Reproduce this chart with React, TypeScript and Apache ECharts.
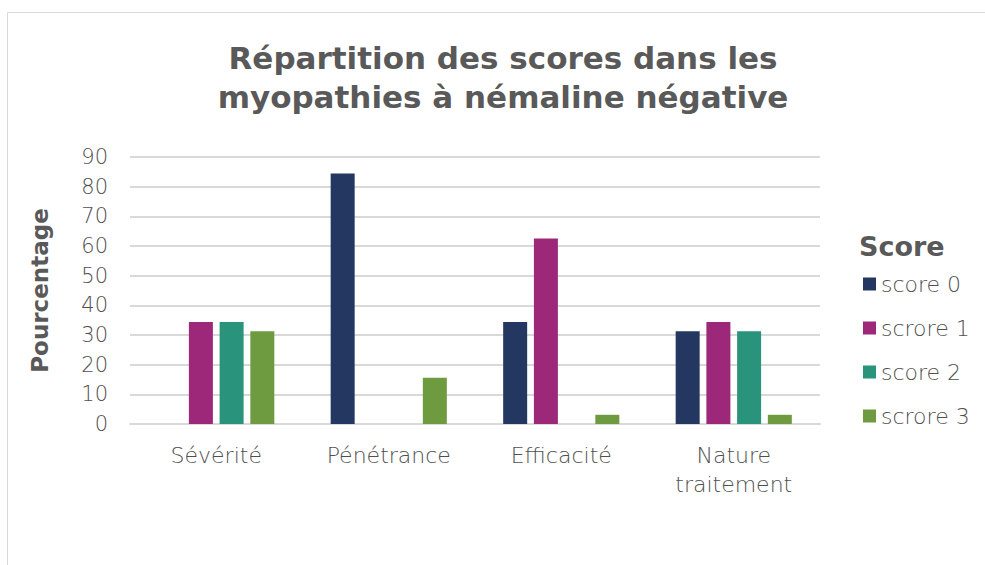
import React, { useEffect, useRef } from "react";
import * as echarts from "echarts";

const categories = ["Sévérité", "Pénétrance", "Efficacité", "Nature traitement"];
const seriesNames = ["score 0", "scrore 1", "score 2", "scrore 3"];
const score0 = [0, 84.4, 34.4, 31.25];
const score1 = [34.4, 0, 62.5, 34.4];
const score2 = [34.4, 0, 0, 31.25];
const score3 = [31.25, 15.6, 3.1, 3.1];
const colors = ["#243761", "#9d2779", "#2a937b", "#6e9b3f"];
const yTicks = { min: 0, max: 90, interval: 10 };

const FONT = "'DejaVu Sans', sans-serif";
const GRAY = "#595959";
const LIGHT_TEXT = "#4f4f4f";

export default function App() {
  const ref = useRef<HTMLDivElement>(null);
  useEffect(() => {
    if (!ref.current) return;
    const chart = echarts.init(ref.current, undefined, { renderer: "svg" });
    const values = [score0, score1, score2, score3];
    chart.setOption({
      animation: false,
      backgroundColor: "#ffffff",
      textStyle: { fontFamily: FONT },
      title: {
        text: "Répartition des scores dans les\nmyopathies à némaline négative",
        left: 503,
        top: 38,
        padding: 0,
        textAlign: "center",
        textStyle: {
          fontFamily: FONT,
          fontSize: 31,
          fontWeight: "bold",
          color: GRAY,
          lineHeight: 39,
        },
      },
      graphic: [
        {
          type: "line",
          shape: { x1: 7.5, y1: 12.5, x2: 985, y2: 12.5 },
          style: { stroke: "#d9d9d9", lineWidth: 1 },
          silent: true,
        },
        {
          type: "line",
          shape: { x1: 7.5, y1: 12.5, x2: 7.5, y2: 565 },
          style: { stroke: "#d9d9d9", lineWidth: 1 },
          silent: true,
        },
        {
          type: "text",
          left: 859,
          top: 233,
          style: {
            text: "Score",
            fontFamily: FONT,
            fontSize: 27,
            fontWeight: "bold",
            fill: GRAY,
          },
        },
      ],
      legend: {
        orient: "vertical",
        left: 863,
        top: 273,
        padding: 0,
        itemWidth: 13,
        itemHeight: 13,
        itemGap: 22,
        icon: "rect",
        data: seriesNames,
        textStyle: { fontFamily: FONT, fontSize: 22, fontWeight: 300, color: LIGHT_TEXT, lineHeight: 22 },
      },
      grid: { left: 130, right: 165, top: 157, bottom: 141 },
      xAxis: {
        type: "category",
        data: categories,
        axisTick: { show: false },
        axisLine: { lineStyle: { color: "#d9d9d9", width: 2 } },
        axisLabel: {
          fontFamily: FONT,
          fontSize: 22,
          fontWeight: 300,
          color: LIGHT_TEXT,
          margin: 17,
          lineHeight: 29,
          formatter: (v: string) => (v === "Nature traitement" ? "Nature\ntraitement" : v),
        },
      },
      yAxis: {
        type: "value",
        min: yTicks.min,
        max: yTicks.max,
        interval: yTicks.interval,
        name: "Pourcentage",
        nameLocation: "middle",
        nameRotate: 90,
        nameGap: 79,
        nameTextStyle: { fontFamily: FONT, fontSize: 23, fontWeight: "bold", color: GRAY },
        axisLabel: { fontFamily: FONT, fontSize: 21, fontWeight: 300, color: LIGHT_TEXT, margin: 22 },
        axisLine: { show: false },
        axisTick: { show: false },
        splitLine: { lineStyle: { color: "#d9d9d9", width: 2 } },
      },
      series: seriesNames.map((name, i) => ({
        name,
        type: "bar",
        data: values[i],
        barWidth: 24,
        barGap: "28%",
        itemStyle: { color: colors[i] },
      })),
    });
    return () => chart.dispose();
  }, []);
  return (
    <div
      ref={ref}
      style={{ position: "fixed", left: 0, top: 0, width: 985, height: 565 }}
    />
  );
}
